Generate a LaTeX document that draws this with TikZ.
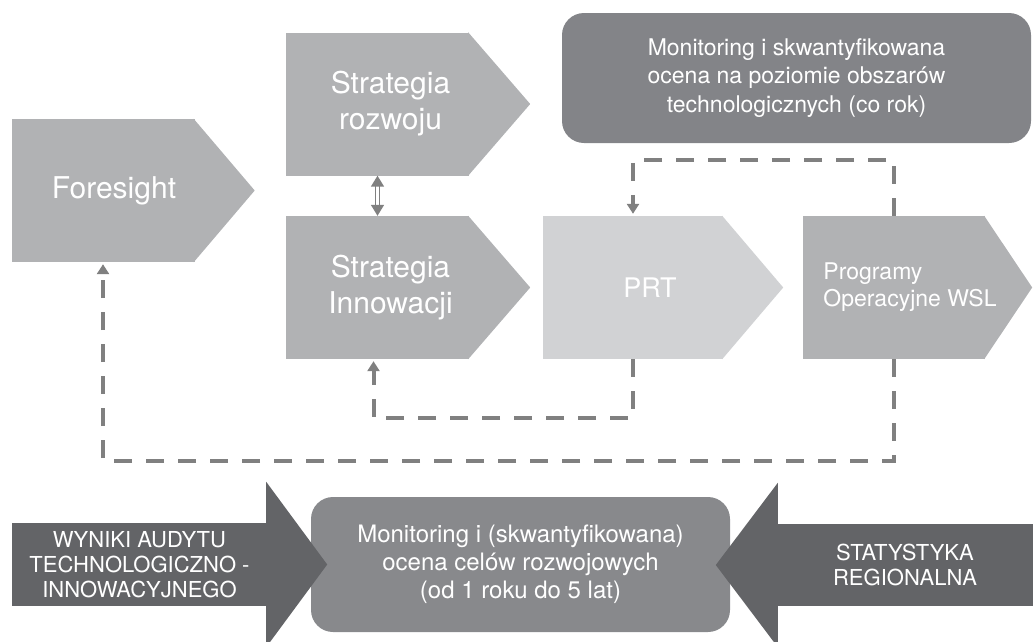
\documentclass[tikz,border=0pt]{standalone}
\usepackage{fontspec}
\setmainfont{TeX Gyre Heros}
\usetikzlibrary{calc, positioning, arrows.meta, backgrounds}

\definecolor{boxgray}{RGB}{177,178,180}
\definecolor{prtgray}{RGB}{209,210,212}
\definecolor{topgray}{RGB}{131,132,136}
\definecolor{midgray}{RGB}{136,137,140}
\definecolor{sidegray}{RGB}{99,100,103}
\definecolor{linegray}{RGB}{128,128,128}

\begin{document}
\begin{tikzpicture}[x=1pt, y=-1pt,
  chev/.style={fill=#1, minimum width=183pt, minimum height=143pt, inner sep=0pt},
  txt/.style={text=white, align=center, font=\fontsize{30}{36}\selectfont},
  small/.style={text=white, align=center, font=\fontsize{23}{28.5}\selectfont},
  side/.style={fill=sidegray, text=white, align=center, inner sep=0pt, font=\fontsize{22}{25}\selectfont},
  rbox/.style={fill=#1, rounded corners=22pt, inner sep=0pt},
  feedback/.style={draw=linegray, line width=4pt, dash pattern=on 18pt off 14pt, -{Triangle[width=12pt,length=10pt]}, shorten >=2pt},
  both/.style={draw=linegray, line width=1.5pt, double=white, double distance=2.5pt, {Triangle[width=13pt,length=11pt]}-{Triangle[width=13pt,length=11pt]}}
]

\useasboundingbox (0,0) rectangle (1033,641);

% upper row
\node[chev=boxgray, label={[txt, xshift=11pt]center:Foresight}] (fore) at (103,190.5) {};
\node[chev=boxgray, label={[txt, xshift=13pt]center:Strategia\\rozwoju}] (roz) at (377.5,104) {};
\node[chev=boxgray, label={[txt, xshift=13pt]center:Strategia\\Innowacji}] (inno) at (377.5,287.5) {};
\node[chev=prtgray, minimum width=180pt, label={[txt, xshift=17pt, font=\fontsize{27}{32}\selectfont]center:PRT}] (prt) at (633,287.5) {};
\node[chev=boxgray, minimum width=182pt, label={[small, align=left, xshift=16pt, font=\fontsize{23}{27}\selectfont]center:Programy\\Operacyjne WSL}] (prog) at (894,287.5) {};

\begin{scope}[on background layer]
\foreach \n/\c/\d in {fore/boxgray/60, roz/boxgray/61, inno/boxgray/61, prt/prtgray/60, prog/boxgray/47}
    \fill[\c] ($(\n.north east)+(-1,0)$) -- ($(\n.east)+(\d,0)$) -- ($(\n.south east)+(-1,0)$) -- cycle;
\end{scope}

\node[rbox=topgray, minimum width=469pt, minimum height=130pt, small] (year) at (796.5,78) {Monitoring i skwantyfikowana\\ocena na poziomie obszarów\\technologicznych (co rok)};

\draw[both] (roz.south) -- (inno.north);

% feedback loops
\draw[feedback] (prog.north) -- ++(0,-56) -| (prt.north);
\draw[feedback] (prt.south) -- ++(0,59) -| ([xshift=-4pt]inno.south);
\draw[feedback] (prog.south) -- ++(0,102) -| (fore.south);

% bottom row
\node[rbox=midgray, minimum width=419pt, minimum height=135pt, small, font=\fontsize{24}{28}\selectfont] (goals) at (520.5,564.5) {Monitoring i (skwantyfikowana)\\ocena celów rozwojowych\\(od 1 roku do 5 lat)};

\node[side, minimum width=255pt, minimum height=83pt] (audit) at (139.5,564.5) {WYNIKI AUDYTU\\TECHNOLOGICZNO -\\INNOWACYJNEGO};
\fill[sidegray] ($(audit.north east)+(-1,-41)$) -- ($(audit.east)+(60,0)$) -- ($(audit.south east)+(-1,41)$) -- cycle;

\node[side, minimum width=256pt, minimum height=82pt] (stats) at (905,565) {STATYSTYKA\\REGIONALNA};
\fill[sidegray] ($(stats.north west)+(1,-41)$) -- ($(stats.west)+(-61,0)$) -- ($(stats.south west)+(1,41)$) -- cycle;

\end{tikzpicture}
\end{document}
